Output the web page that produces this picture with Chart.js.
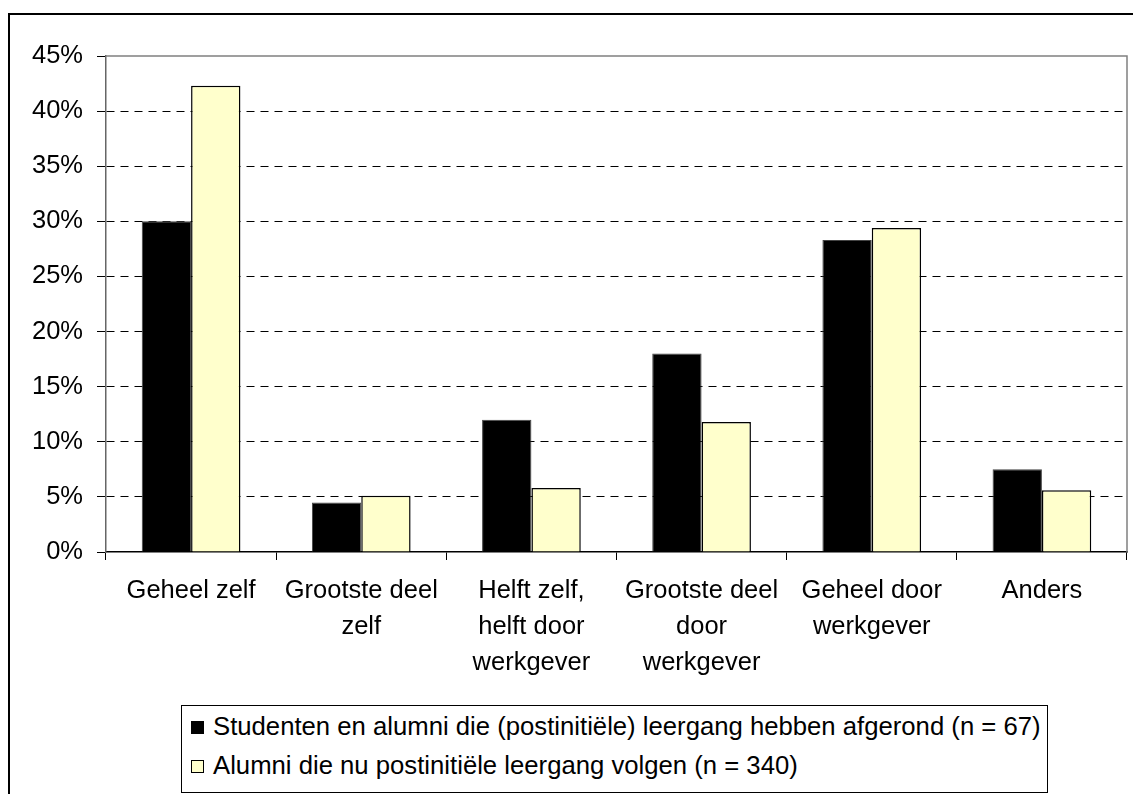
<!DOCTYPE html>
<html>
<head>
<meta charset="utf-8">
<script src="https://cdn.jsdelivr.net/npm/chart.js@4.4.0/dist/chart.umd.min.js"></script>
<style>
  html, body { margin: 0; padding: 0; background: #fff; overflow: hidden; }
  #wrap { position: relative; width: 1133px; height: 794px; }
  #frame { position: absolute; left: 8px; top: 13px; width: 1200px; height: 900px; border: 2px solid #000; }
  #chart { position: absolute; left: 0; top: 0; }
  #legend { position: absolute; left: 181px; top: 705px; width: 865px; height: 86px; border: 1px solid #000;
            font-family: "Liberation Sans", Arial, sans-serif; font-size: 25.7px; color: #000; background: #fff; }
  .item { position: absolute; left: 9px; height: 30px; line-height: 30px; white-space: nowrap; }
  .sw { display: inline-block; width: 11px; height: 11px; border: 1px solid #000; margin-right: 9px; vertical-align: 1px; }
</style>
</head>
<body>
<div id="wrap">
  <div id="frame"></div>
  <canvas id="chart" width="1133" height="794"></canvas>
  <div id="legend"></div>
</div>
<script>
// categorieën (x-as)
const categories = [
  ['Geheel zelf'],
  ['Grootste deel', 'zelf'],
  ['Helft zelf,', 'helft door', 'werkgever'],
  ['Grootste deel', 'door', 'werkgever'],
  ['Geheel door', 'werkgever'],
  ['Anders']
];
// percentages
const afgerond = [30.0, 4.5, 12.0, 18.0, 28.3, 7.5];
const volgen = [42.3, 5.1, 5.8, 11.8, 29.4, 5.6];
const yTicks = [0, 5, 10, 15, 20, 25, 30, 35, 40, 45];

const seriesNames = [
  'Studenten en alumni die (postinitiële) leergang hebben afgerond (n = 67)',
  'Alumni die nu postinitiële leergang volgen (n = 340)'
];
const seriesColors = ['#000000', '#FFFFCC'];

const FONT = '"Liberation Sans", Arial, sans-serif';

// grijze rand om het plotgebied
const plotBorder = {
  id: 'plotBorder',
  beforeDatasetsDraw(chart) {
    const a = chart.chartArea, ctx = chart.ctx;
    ctx.save();
    ctx.strokeStyle = '#808080';
    ctx.lineWidth = 1.5;
    ctx.beginPath();
    ctx.moveTo(a.left, a.top);
    ctx.lineTo(a.right, a.top);
    ctx.lineTo(a.right, a.bottom);
    ctx.stroke();
    ctx.restore();
  }
};

const ctx = document.getElementById('chart').getContext('2d');
const chart = new Chart(ctx, {
  type: 'bar',
  data: {
    labels: categories,
    datasets: [
      { label: seriesNames[0], data: afgerond, backgroundColor: seriesColors[0], borderColor: '#444', borderWidth: 1 },
      { label: seriesNames[1], data: volgen, backgroundColor: seriesColors[1], borderColor: '#000', borderWidth: 1.5 }
    ]
  },
  options: {
    responsive: false,
    animation: false,
    devicePixelRatio: 1,
    categoryPercentage: 0.58,
    barPercentage: 1,
    layout: { padding: { left: 10, right: 6, top: 56, bottom: 92 } },
    plugins: { legend: { display: false }, tooltip: { enabled: false } },
    scales: {
      x: {
        grid: { offset: true, drawOnChartArea: false, tickLength: 8, tickColor: '#000', lineWidth: 1 },
        border: { color: '#000', width: 1.5 },
        ticks: { color: '#000', font: { family: FONT, size: 25.5, lineHeight: '36px' }, padding: 13, maxRotation: 0, autoSkip: false },
        afterFit: s => { s.height = 150; }
      },
      y: {
        min: 0,
        max: 45,
        afterBuildTicks: s => { s.ticks = yTicks.map(v => ({ value: v })); },
        grid: {
          color: c => (c.tick.value === 0 || c.tick.value === 45) ? 'rgba(0,0,0,0)' : '#000',
          tickColor: '#000',
          tickLength: 9,
          tickBorderDash: [],
          lineWidth: 1
        },
        border: { color: '#666', width: 1.5, dash: [8, 6] },
        ticks: { color: '#000', font: { family: FONT, size: 25.5 }, padding: 14, callback: v => v + '%' },
        afterFit: s => { s.width = 96; }
      }
    }
  },
  plugins: [plotBorder]
});

// legenda in een omrande box
const legend = document.getElementById('legend');
chart.data.datasets.forEach((ds, i) => {
  const item = document.createElement('div');
  item.className = 'item';
  item.style.top = (5 + i * 39) + 'px';
  const sw = document.createElement('span');
  sw.className = 'sw';
  sw.style.background = ds.backgroundColor;
  item.appendChild(sw);
  item.appendChild(document.createTextNode(ds.label));
  legend.appendChild(item);
});
</script>
</body>
</html>
